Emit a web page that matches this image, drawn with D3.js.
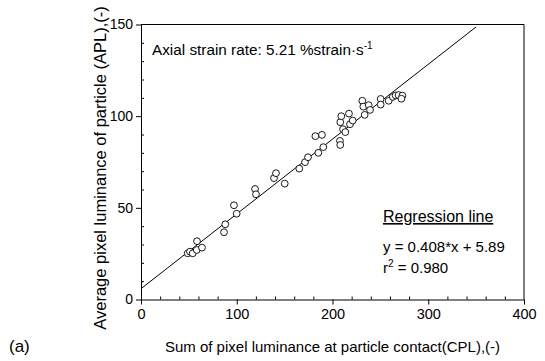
<!DOCTYPE html>
<html>
<head>
<meta charset="utf-8">
<script src="https://cdn.jsdelivr.net/npm/d3@7"></script>
<style>
  body { margin: 0; background: #fff; }
  svg text { font-family: "Liberation Sans", Arial, sans-serif; fill: #000; }
</style>
</head>
<body>
<svg id="chart" width="545" height="361"></svg>
<script>
// sum of pixel luminance at contact (CPL)
const cplValues = [48.8, 51.2, 54.0, 58.2, 58.5, 63.7, 86.7, 88.0, 97.1, 99.9,
    119.1, 120.1, 138.9, 141.0, 150.1, 165.3, 171.3, 174.4, 182.1, 185.2,
    189.0, 190.4, 207.8, 208.1, 208.1, 209.2, 211.0, 213.4, 217.2, 218.3,
    221.1, 231.1, 232.2, 233.6, 237.8, 239.2, 250.3, 250.3, 258.7, 263.0,
    266.0, 269.0, 273.0, 272.0];
// average pixel luminance of particle (APL)
const aplValues = [25.2, 26.1, 25.2, 27.0, 31.8, 28.3, 36.7, 41.0, 51.4, 46.8,
    60.3, 57.4, 66.2, 68.9, 63.2, 71.4, 74.9, 77.6, 89.1, 80.0,
    89.8, 83.1, 86.5, 84.3, 96.7, 100.0, 92.9, 91.3, 101.4, 95.6,
    97.6, 108.4, 105.2, 100.7, 106.0, 103.4, 109.4, 106.3, 108.4, 110.5,
    111.3, 111.5, 111.2, 109.5];

const xMajorTicks = [0, 100, 200, 300, 400];
const yMajorTicks = [0, 50, 100, 150];
const fitSlope = 0.408;
const fitIntercept = 5.89;
const fitRange = [0, 350];

const margin = { left: 141, right: 21, top: 24.5, bottom: 61.5 };
const width = 545, height = 361;

const svg = d3.select('#chart');

const x = d3.scaleLinear().domain([0, 400]).range([margin.left, width - margin.right]);
const y = d3.scaleLinear().domain([0, 150]).range([height - margin.bottom, margin.top]);

const plotBottom = y(0);
const plotTop = y(150);

// frame (top and right)
svg.append('path')
    .attr('d', `M${x(0)},${plotTop}H${x(400)}V${plotBottom}`)
    .attr('fill', 'none')
    .attr('stroke', '#000')
    .attr('stroke-width', 1);

// minor ticks point inward
const xMinor = d3.range(0, 401, 20).filter(v => v % 100 !== 0);
const yMinor = d3.range(0, 151, 10).filter(v => v % 50 !== 0);

svg.append('g')
    .attr('transform', `translate(0,${plotBottom})`)
    .call(d3.axisBottom(x).tickValues(xMinor).tickSize(-3).tickFormat(''))
    .call(g => g.select('.domain').remove());

svg.append('g')
    .attr('transform', `translate(${x(0)},0)`)
    .call(d3.axisLeft(y).tickValues(yMinor).tickSize(-3).tickFormat(''))
    .call(g => g.select('.domain').remove());

// major axes
const xAxis = svg.append('g')
    .attr('transform', `translate(0,${plotBottom})`)
    .call(d3.axisBottom(x).tickValues(xMajorTicks).tickSize(5).tickSizeOuter(0).tickPadding(4));

const yAxis = svg.append('g')
    .attr('transform', `translate(${x(0)},0)`)
    .call(d3.axisLeft(y).tickValues(yMajorTicks).tickSize(5).tickSizeOuter(0).tickPadding(3));

[xAxis, yAxis].forEach(g => {
    g.selectAll('text').attr('font-size', 14.5).attr('font-family', '"Liberation Sans", Arial, sans-serif');
    g.selectAll('line, path').attr('stroke', '#000');
});
yAxis.selectAll('text').attr('font-size', 14);

// regression line
svg.append('clipPath').attr('id', 'plot-clip')
    .append('rect')
    .attr('x', x(0)).attr('y', plotTop)
    .attr('width', x(400) - x(0)).attr('height', plotBottom - plotTop);

svg.append('line')
    .attr('x1', x(fitRange[0]))
    .attr('y1', y(fitSlope * fitRange[0] + fitIntercept))
    .attr('x2', x(fitRange[1]))
    .attr('y2', y(fitSlope * fitRange[1] + fitIntercept))
    .attr('stroke', '#000')
    .attr('stroke-width', 1)
    .attr('clip-path', 'url(#plot-clip)');

// data points
svg.append('g')
    .selectAll('circle')
    .data(cplValues.map((v, i) => ({ cpl: v, apl: aplValues[i] })))
    .enter()
    .append('circle')
    .attr('cx', d => x(d.cpl))
    .attr('cy', d => y(d.apl))
    .attr('r', 3.4)
    .attr('fill', '#fff')
    .attr('stroke', '#000')
    .attr('stroke-width', 0.9);

// annotation
const ann = svg.append('text')
    .attr('x', 152)
    .attr('y', 55)
    .attr('font-size', 15.3);
ann.append('tspan').text('Axial strain rate: 5.21 %strain\u00b7s');
ann.append('tspan').attr('font-size', 10).attr('dy', -6).text('-1');

svg.append('text')
    .attr('x', 383).attr('y', 222)
    .attr('font-size', 16)
    .attr('text-decoration', 'underline')
    .text('Regression line');

svg.append('text')
    .attr('x', 383).attr('y', 251.5)
    .attr('font-size', 15)
    .text(`y = ${fitSlope}*x + ${fitIntercept}`);

const r2 = svg.append('text')
    .attr('x', 383).attr('y', 273)
    .attr('font-size', 15);
r2.append('tspan').text('r');
r2.append('tspan').attr('font-size', 10).attr('dy', -6).text('2');
r2.append('tspan').attr('dy', 6).text(' = 0.980');

// axis titles
svg.append('text')
    .attr('x', (x(0) + x(400)) / 2)
    .attr('y', 352)
    .attr('text-anchor', 'middle')
    .attr('font-size', 15)
    .text('Sum of pixel luminance at particle contact(CPL),(-)');

svg.append('text')
    .attr('transform', `translate(106,${(plotTop + plotBottom) / 2 + 6}) rotate(-90)`)
    .attr('text-anchor', 'middle')
    .attr('font-size', 16.5)
    .text('Average pixel luminance of particle (APL),(-)');

svg.append('text')
    .attr('x', 9).attr('y', 352)
    .attr('font-size', 17)
    .text('(a)');
</script>
</body>
</html>
